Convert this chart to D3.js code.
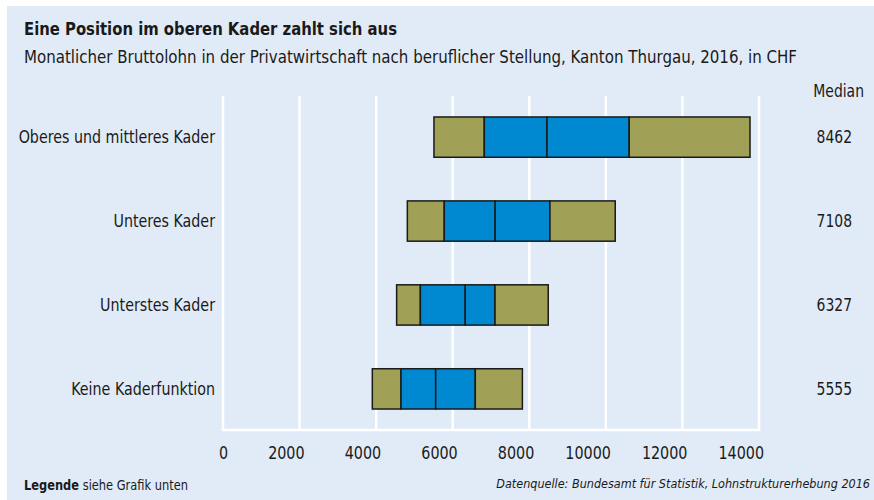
<!DOCTYPE html>
<html>
<head>
<meta charset="utf-8">
<script src="https://cdn.jsdelivr.net/npm/d3@7"></script>
<style>
  body { margin: 0; background: #fff; }
  svg text { font-family: "DejaVu Sans Condensed", "DejaVu Sans", sans-serif; fill: #1a1a1a; }
</style>
</head>
<body>
<div id="chart"></div>
<script>
//data: wage percentiles (P10, P25, median, P75, P90) per position
const categories = ["Oberes und mittleres Kader", "Unteres Kader", "Unterstes Kader", "Keine Kaderfunktion"];
const p10 = [5510, 4815, 4535, 3900];
const p25 = [6825, 5780, 5155, 4650];
const median = [8462, 7108, 6327, 5555];
const p75 = [10610, 8540, 7105, 6590];
const p90 = [13765, 10245, 8495, 7820];
const ticks = [0, 2000, 4000, 6000, 8000, 10000, 12000, 14000];

const width = 874, height = 500;
const olive = "#a0a156", blue = "#0088d0", panel = "#e1ebf7";

//squeeze text horizontally to look like the condensed original font
function condense(sel, k) {
  sel.each(function () {
    const len = this.getComputedTextLength();
    d3.select(this)
      .attr("textLength", len * k)
      .attr("lengthAdjust", "spacingAndGlyphs");
  });
}

const svg = d3.select("#chart").append("svg")
  .attr("width", width)
  .attr("height", height);

svg.append("rect")
  .attr("x", 7).attr("y", 6)
  .attr("width", width - 7).attr("height", height - 6)
  .attr("fill", panel);

const x = d3.scaleLinear().domain([0, 14000]).range([223, 759]);
const y = d3.scaleBand().domain(categories).range([96, 430])
  .paddingInner(0.52).paddingOuter(0.25);

//grid
svg.append("g").selectAll("line")
  .data(ticks)
  .join("line")
  .attr("x1", d => x(d)).attr("x2", d => x(d))
  .attr("y1", 96).attr("y2", 430)
  .attr("stroke", "#fff").attr("stroke-width", 2.5);

svg.append("line")
  .attr("x1", x(0) - 1.25).attr("x2", x(14000) + 1.25)
  .attr("y1", 430).attr("y2", 430)
  .attr("stroke", "#fff").attr("stroke-width", 2.5);

//tick labels
svg.append("g").selectAll("text")
  .data(ticks)
  .join("text")
  .attr("x", d => x(d) + 5)
  .attr("y", 459)
  .attr("text-anchor", "end")
  .style("font-size", "18.5px")
  .text(d => d)
  .call(condense, 0.86);

//boxes: segments p10-p25, p25-median, median-p75, p75-p90
const rows = categories.map((c, i) => ({
  cat: c,
  segs: [
    [p10[i], p25[i], olive],
    [p25[i], median[i], blue],
    [median[i], p75[i], blue],
    [p75[i], p90[i], olive]
  ]
}));

const row = svg.append("g").selectAll("g")
  .data(rows)
  .join("g")
  .attr("transform", d => `translate(0,${y(d.cat)})`);

row.selectAll("rect")
  .data(d => d.segs)
  .join("rect")
  .attr("x", d => x(d[0]))
  .attr("width", d => x(d[1]) - x(d[0]))
  .attr("height", y.bandwidth())
  .attr("fill", d => d[2])
  .attr("stroke", "#1a1a1a")
  .attr("stroke-width", 1.5);

//category labels
svg.append("g").selectAll("text")
  .data(categories)
  .join("text")
  .attr("x", 215)
  .attr("y", d => y(d) + y.bandwidth() / 2)
  .attr("dy", "0.35em")
  .attr("text-anchor", "end")
  .style("font-size", "18px")
  .text(d => d)
  .call(condense, 0.88);

//median values
svg.append("g").selectAll("text")
  .data(categories)
  .join("text")
  .attr("x", 852)
  .attr("y", (d, i) => y(d) + y.bandwidth() / 2)
  .attr("dy", "0.35em")
  .attr("text-anchor", "end")
  .style("font-size", "18px")
  .text((d, i) => median[i])
  .call(condense, 0.86);

svg.append("text")
  .attr("x", 864).attr("y", 97)
  .attr("text-anchor", "end")
  .style("font-size", "18px")
  .text("Median")
  .call(condense, 0.86);

//titles
svg.append("text")
  .attr("x", 24).attr("y", 35)
  .style("font-size", "17.5px")
  .style("font-weight", "bold")
  .attr("textLength", 373)
  .attr("lengthAdjust", "spacingAndGlyphs")
  .text("Eine Position im oberen Kader zahlt sich aus");

svg.append("text")
  .attr("x", 24).attr("y", 63)
  .style("font-size", "18px")
  .attr("textLength", 773)
  .attr("lengthAdjust", "spacingAndGlyphs")
  .text("Monatlicher Bruttolohn in der Privatwirtschaft nach beruflicher Stellung, Kanton Thurgau, 2016, in CHF");

//footer
const legend = svg.append("text")
  .attr("x", 24).attr("y", 490)
  .style("font-size", "14px")
  .attr("textLength", 164)
  .attr("lengthAdjust", "spacingAndGlyphs");
legend.append("tspan").style("font-weight", "bold").text("Legende");
legend.append("tspan").text(" siehe Grafik unten");

//source line: pick the font size so that it fits the reference width
const source = svg.append("text")
  .attr("x", 870).attr("y", 488)
  .attr("text-anchor", "end")
  .style("font-size", "14px")
  .style("font-style", "italic")
  .text("Datenquelle: Bundesamt für Statistik, Lohnstrukturerhebung 2016");
const srcLen = source.node().getComputedTextLength();
source.style("font-size", (14 * 374 / srcLen) + "px");
</script>
</body>
</html>
